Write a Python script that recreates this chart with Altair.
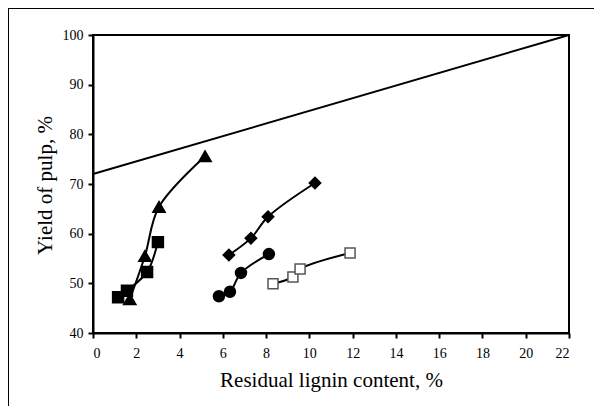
import altair as alt
import pandas as pd

# Series
tri_x = [1.7, 2.4, 3.05, 5.18]
tri_y = [46.8, 55.5, 65.4, 75.6]
sq_x = [1.16, 1.57, 2.5, 3.0]
sq_y = [47.2, 48.5, 52.3, 58.3]
dia_x = [6.28, 7.3, 8.09, 10.26]
dia_y = [55.7, 59.1, 63.4, 70.2]
cir_x = [5.82, 6.33, 6.84, 8.13]
cir_y = [47.4, 48.3, 52.1, 55.9]
osq_x = [8.32, 9.24, 9.57, 11.88]
osq_y = [49.9, 51.3, 52.9, 56.1]
ref_x = [0, 22]
ref_y = [72, 100]

x_ticks = list(range(0, 23, 2))
y_ticks = list(range(40, 101, 10))

FONT = "Liberation Serif"

xs = alt.Scale(domain=[0, 22], nice=False, zero=False)
ys = alt.Scale(domain=[40, 100], nice=False, zero=False)

X = alt.X("x:Q", scale=xs, title="Residual lignin content, %",
          axis=alt.Axis(values=x_ticks, grid=False, domainColor="black", domainWidth=2,
                        tickColor="black", tickWidth=2, tickSize=5, labelFont=FONT,
                        labelFontSize=14, labelColor="black", labelPadding=8,
                        titleFont=FONT, titleFontSize=21, titleFontWeight="normal",
                        titleColor="black", titlePadding=9))
Y = alt.Y("y:Q", scale=ys, title="Yield of pulp, %",
          axis=alt.Axis(values=y_ticks, grid=False, domainColor="black", domainWidth=2,
                        tickColor="black", tickWidth=2, tickSize=5, labelFont=FONT,
                        labelFontSize=14, labelColor="black", labelPadding=5,
                        titleFont=FONT, titleFontSize=21, titleFontWeight="normal",
                        titleColor="black", titleX=-48, titleY=150,
                        titleBaseline="middle", titleAngle=270))


def series(xv, yv, shape, size, fill, stroke, interp="catmull-rom"):
    df = pd.DataFrame({"x": xv, "y": yv})
    base = alt.Chart(df)
    line = base.mark_line(color="black", strokeWidth=2, interpolate=interp).encode(x=X, y=Y)
    pts = base.mark_point(shape=shape, size=size, filled=True, fill=fill, stroke=stroke,
                          strokeWidth=1.5, opacity=1).encode(x=X, y=Y)
    return [line, pts]


ref_df = pd.DataFrame({"x": ref_x, "y": ref_y})
ref = alt.Chart(ref_df).mark_line(color="black", strokeWidth=2).encode(x=X, y=Y)

layers = [ref]
layers += series(tri_x, tri_y, "triangle-up", 150, "black", "black")
layers += series(sq_x, sq_y, "square", 120, "black", "black")
layers += series(dia_x, dia_y, "diamond", 130, "black", "black")
layers += series(cir_x, cir_y, "circle", 120, "black", "black")
layers += series(osq_x, osq_y, "square", 100, "white", "#555555")

frame_df = pd.DataFrame({"x": [0]})
frame_left = alt.Chart(frame_df).mark_rule(color="black", strokeWidth=2).encode(
    x=alt.value(-85), y=alt.value(-27), y2=alt.value(380))
frame_top = alt.Chart(frame_df).mark_rule(color="black", strokeWidth=2).encode(
    x=alt.value(-85), x2=alt.value(510), y=alt.value(-27))
layers += [frame_left, frame_top]

chart = alt.layer(*layers).properties(
    width=476, height=298,
    autosize=alt.AutoSizeParams(type="none"),
    padding={"left": 85, "top": 27, "right": 25, "bottom": 73},
    background="white",
).configure_view(stroke="black", strokeWidth=2)

chart.save("out.html", embed_options={"renderer": "svg", "actions": False})
